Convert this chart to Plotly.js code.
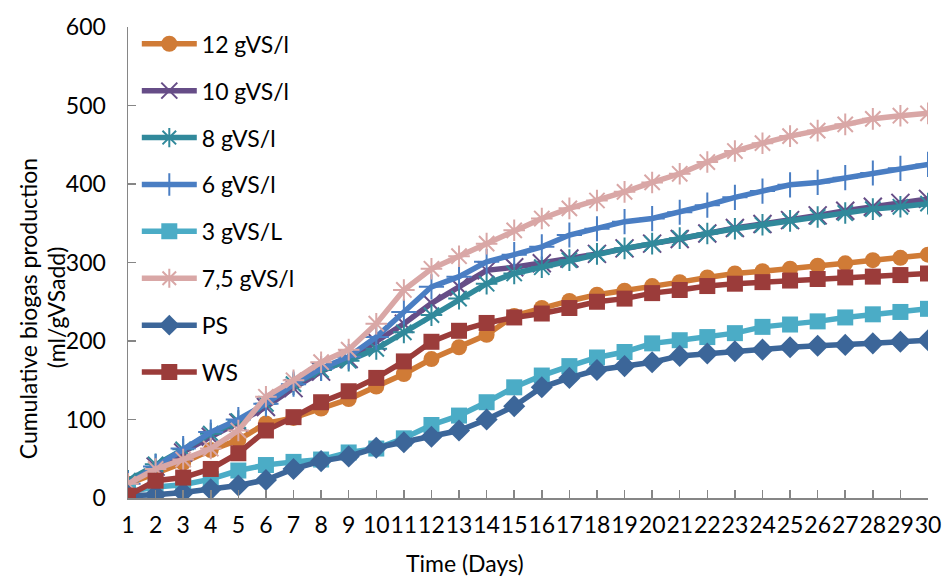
<!DOCTYPE html>
<html>
<head>
<meta charset="utf-8">
<script src="https://cdn.plot.ly/plotly-3.0.1.min.js"></script>
<style>html,body{margin:0;padding:0;background:#fff;}#chart{width:945px;height:577px;}</style>
</head>
<body>
<div id="chart"></div>
<script>
const days = [1,2,3,4,5,6,7,8,9,10,11,12,13,14,15,16,17,18,19,20,21,22,23,24,25,26,27,28,29,30];
const tickLabels = days.map(String);

const seriesNames = ["12 gVS/l","10 gVS/l","8 gVS/l","6 gVS/l","3 gVS/L","7,5 gVS/l","PS","WS"];

const s12  = [18,32,45,61,74,95,102,114,126,142,158,177,192,208,232,242,251,259,264,270,275,281,286,289,292,296,299,303,306,310];
const s10  = [20,40,58,78,96,116,140,161,177,199,222,248,269,290,294,299,305,311,318,324,330,337,344,349,354,360,366,371,376,381];
const s8   = [22,43,62,82,98,120,145,163,175,190,211,233,254,273,286,294,303,311,318,324,331,337,343,348,353,358,363,368,371,375];
const s6   = [18,40,63,84,100,120,145,165,180,205,237,269,282,301,310,320,335,343,352,356,364,373,383,391,399,402,408,414,420,425];
const s3   = [8,14,17,24,35,42,46,49,58,63,76,93,105,122,141,156,168,179,186,197,201,205,210,218,221,225,230,234,237,241];
const s75  = [18,37,49,63,86,129,150,173,189,222,265,292,308,324,341,356,369,379,390,402,413,428,442,452,461,468,476,483,487,490];
const sPS  = [3,4,7,11,16,23,37,47,53,64,71,78,86,100,117,141,153,163,168,173,181,184,187,189,192,194,195,197,199,201];
const sWS  = [3,22,26,37,57,86,103,122,136,153,174,199,213,223,230,235,242,250,254,261,265,270,273,275,277,279,281,282,284,286];

const values = [s12,s10,s8,s6,s3,s75,sPS,sWS];
const colors = ["#D07B36","#664D87","#31899B","#4A7EC3","#4BACC6","#D9A7A6","#3C6699","#9B3C3A"];
const symbols = ["circle","x-thin","asterisk","cross-thin","square","asterisk","diamond","square"];
const sizes = [16,18,18,18,16,18,17,16];

const FONT = "Lato, 'Open Sans', sans-serif";
const FS = 23;

const traces = seriesNames.map((name,i)=>({
  x: days, y: values[i], name: name, type: "scatter", mode: "lines+markers",
  legendgroup: "g"+i,
  line: {color: colors[i], width: 5.5},
  marker: {symbol: symbols[i], size: sizes[i], color: colors[i],
           line: {color: colors[i], width: (symbols[i]==="circle"||symbols[i]==="square"||symbols[i]==="diamond")?0:2}}
}));

const layout = {
  width: 945, height: 577,
  margin: {l:128, r:17, t:27, b:79},
  paper_bgcolor: "#fff", plot_bgcolor: "#fff",
  font: {family: FONT, size: FS, color: "#000"},
  showlegend: true,
  legend: {x: 0.011, y: 1.01, xanchor: "left", yanchor: "top", bgcolor: "rgba(0,0,0,0)",
           traceorder: "grouped", tracegroupgap: 14, itemwidth: 55, maxheight: 1000,
           font: {family: FONT, size: FS, color:"#000"}},
  xaxis: {range: [1,30], tickmode: "array", tickvals: days, ticktext: tickLabels, tickangle: 0,
          ticks: "inside", ticklen: 8, tickcolor: "#868686", tickwidth: 1.5, ticklabelstandoff: 6,
          showline: true, linecolor: "#868686", linewidth: 1.5, showgrid: false, zeroline: false,
          tickfont: {family: FONT, size: FS, color:"#000"}},
  yaxis: {range: [0,600], dtick: 100, ticks: "inside", ticklen: 8, tickcolor: "#868686", tickwidth: 1.5,
          ticklabelstandoff: 16,
          showline: true, linecolor: "#868686", linewidth: 1.5, showgrid: false, zeroline: false,
          tickfont: {family: FONT, size: FS, color:"#000"}},
  annotations: [
    {text: "Time (Days)", xref: "paper", yref: "paper", x: (465-128)/800, y: -(563-497.7)/471,
     xanchor: "center", yanchor: "middle", showarrow: false, font: {family: FONT, size: FS, color:"#000"}},
    {text: "Cumulative biogas production", xref: "paper", yref: "paper", x: (28-128)/800, y: (497.7-309)/471,
     xanchor: "center", yanchor: "middle", textangle: -90, showarrow: false, font: {family: FONT, size: FS, color:"#000"}},
    {text: "(ml/gVSadd)", xref: "paper", yref: "paper", x: (56-128)/800, y: (497.7-307)/471,
     xanchor: "center", yanchor: "middle", textangle: -90, showarrow: false, font: {family: FONT, size: FS, color:"#000"}}
  ]
};

Plotly.newPlot("chart", traces, layout, {displayModeBar: false, staticPlot: true});
</script>
</body>
</html>
